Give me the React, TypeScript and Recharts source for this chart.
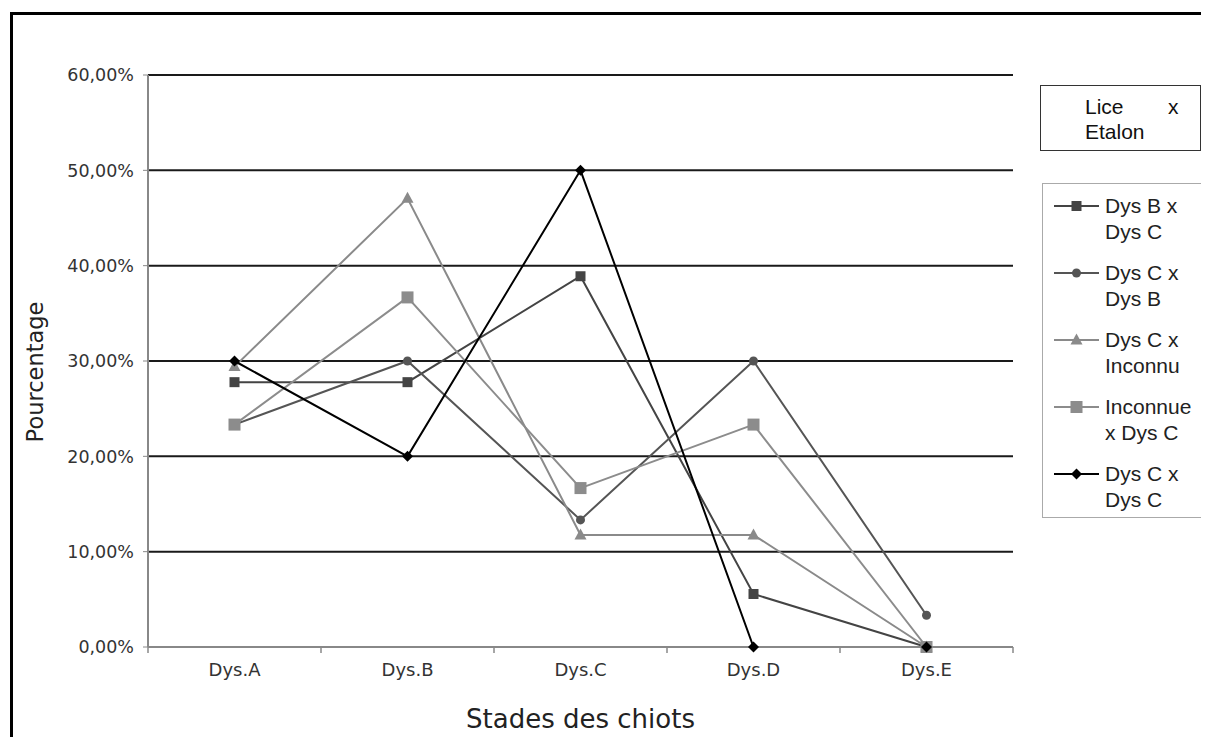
import React from 'react';
import { LineChart, Line, XAxis, YAxis, CartesianGrid, Legend } from 'recharts';

const categories = ['Dys.A', 'Dys.B', 'Dys.C', 'Dys.D', 'Dys.E'];
const dysBxDysC = [27.78, 27.78, 38.89, 5.56, 0];
const dysCxDysB = [23.33, 30, 13.33, 30, 3.33];
const dysCxInconnu = [29.41, 47.06, 11.76, 11.76, 0];
const inconnuexDysC = [23.33, 36.67, 16.67, 23.33, 0];
const dysCxDysC = [30, 20, 50, 0, 0];
const yTicks = [0, 10, 20, 30, 40, 50, 60];

const seriesNames = ['Dys B x Dys C', 'Dys C x Dys B', 'Dys C x Inconnu', 'Inconnue x Dys C', 'Dys C x Dys C'];
const legendLines = [
  ['Dys B x', 'Dys C'],
  ['Dys C x', 'Dys B'],
  ['Dys C x', 'Inconnu'],
  ['Inconnue', 'x Dys C'],
  ['Dys C x', 'Dys C'],
];

const data = categories.map((c, i) => ({
  cat: c,
  s0: dysBxDysC[i],
  s1: dysCxDysB[i],
  s2: dysCxInconnu[i],
  s3: inconnuexDysC[i],
  s4: dysCxDysC[i],
}));

type Shape = 'square' | 'circle' | 'triangle' | 'bigsquare' | 'diamond';
const styles: { key: string; color: string; shape: Shape }[] = [
  { key: 's0', color: '#444444', shape: 'square' },
  { key: 's1', color: '#555555', shape: 'circle' },
  { key: 's2', color: '#8a8a8a', shape: 'triangle' },
  { key: 's3', color: '#8c8c8c', shape: 'bigsquare' },
  { key: 's4', color: '#000000', shape: 'diamond' },
];

function marker(shape: Shape, cx: number, cy: number, color: string, k?: string | number) {
  switch (shape) {
    case 'square':
      return <rect key={k} x={cx - 5} y={cy - 5} width={10} height={10} fill={color} />;
    case 'bigsquare':
      return <rect key={k} x={cx - 6} y={cy - 6} width={12} height={12} fill={color} />;
    case 'circle':
      return <circle key={k} cx={cx} cy={cy} r={4.5} fill={color} />;
    case 'triangle':
      return <path key={k} d={`M${cx},${cy - 6.5}L${cx + 6},${cy + 4.5}L${cx - 6},${cy + 4.5}Z`} fill={color} />;
    case 'diamond':
    default:
      return <path key={k} d={`M${cx},${cy - 5.5}L${cx + 5.5},${cy}L${cx},${cy + 5.5}L${cx - 5.5},${cy}Z`} fill={color} />;
  }
}

const fmt = (v: number) => `${v.toFixed(2).replace('.', ',')}%`;

const XTick = (props: any) => {
  const { x, y, payload, index, visibleTicksCount } = props;
  const off = payload && payload.offset ? payload.offset : 0;
  const axisY = y - 16;
  return (
    <g>
      <line x1={x - off} x2={x - off} y1={axisY} y2={axisY + 6} stroke="#888" strokeWidth={1.5} />
      {index === visibleTicksCount - 1 && (
        <line x1={x + off} x2={x + off} y1={axisY} y2={axisY + 6} stroke="#888" strokeWidth={1.5} />
      )}
      <text x={x} y={y} dy="0.71em" textAnchor="middle" fontSize={18} fill="#333" fontFamily="DejaVu Sans">
        {payload.value}
      </text>
    </g>
  );
};

const LegendContent = () => (
  <div
    style={{
      width: 159,
      height: 324,
      border: '1px solid #aaa',
      background: '#fff',
      paddingTop: 9,
      boxSizing: 'content-box',
      fontFamily: '"Liberation Sans", Arial, sans-serif',
      fontSize: 21,
      color: '#222',
    }}
  >
    {styles.map((s, i) => (
      <div key={s.key} style={{ position: 'relative', height: 67 }}>
        <svg width={60} height={26} style={{ position: 'absolute', left: 0, top: 0 }}>
          <line x1={11} x2={56} y1={13} y2={13} stroke={s.color} strokeWidth={2} />
          {marker(s.shape, 33.5, 13, s.color)}
        </svg>
        <div style={{ position: 'absolute', left: 62, top: 0, lineHeight: '26px', whiteSpace: 'nowrap' }}>
          <div>{legendLines[i][0]}</div>
          <div>{legendLines[i][1]}</div>
        </div>
      </div>
    ))}
  </div>
);

export default function App() {
  return (
    <div style={{ position: 'relative', width: 1201, height: 729 }}>
      <div
        style={{
          position: 'absolute',
          left: 2,
          top: 4,
          right: 0,
          bottom: 0,
          borderLeft: '3px solid #000',
          borderTop: '3px solid #000',
        }}
      />
      <div
        style={{
          position: 'absolute',
          left: 1032,
          top: 77,
          width: 159,
          height: 64,
          border: '1px solid #333',
          fontFamily: '"Liberation Sans", Arial, sans-serif',
          fontSize: 21,
          lineHeight: '25px',
          color: '#111',
          background: '#fff',
        }}
      >
        <div style={{ position: 'absolute', left: 44, top: 8, whiteSpace: 'nowrap' }}>Lice</div>
        <div style={{ position: 'absolute', left: 127, top: 8 }}>x</div>
        <div style={{ position: 'absolute', left: 44, top: 33 }}>Etalon</div>
      </div>
      <div style={{ position: 'absolute', left: 0, top: 0 }}>
        <LineChart width={1201} height={729} data={data} margin={{ top: 67, right: 196, left: 0, bottom: 0 }}>
          <CartesianGrid vertical={false} stroke="#1a1a1a" strokeWidth={2} />
          <XAxis
            dataKey="cat"
            scale="band"
            height={90}
            axisLine={{ stroke: '#888', strokeWidth: 2 }}
            tickLine={{ stroke: 'none' }}
            tickSize={6}
            tickMargin={10}
            tick={<XTick />}
            interval={0}
            label={{
              value: 'Stades des chiots',
              position: 'insideBottom',
              offset: 9,
              fontSize: 26,
              fill: '#222',
              fontFamily: 'DejaVu Sans',
            }}
          />
          <YAxis
            width={140}
            domain={[0, 60]}
            ticks={yTicks}
            tickFormatter={fmt}
            axisLine={{ stroke: '#888', strokeWidth: 2 }}
            tickLine={{ stroke: '#888' }}
            tickSize={5}
            tickMargin={9}
            tick={{ fontSize: 17.5, fill: '#333', fontFamily: 'DejaVu Sans' }}
            label={(p: any) => {
              const vb = p.viewBox || {};
              const cy = (vb.y || 0) + (vb.height || 0) / 2 + 11;
              return (
                <text
                  x={27}
                  y={cy}
                  transform={`rotate(-90, 27, ${cy})`}
                  textAnchor="middle"
                  dominantBaseline="central"
                  fontSize={22.5}
                  fill="#222"
                  fontFamily="DejaVu Sans"
                >
                  Pourcentage
                </text>
              );
            }}
          />
          <YAxis
            yAxisId="r"
            orientation="right"
            width={0}
            domain={[0, 60]}
            tick={false}
            tickLine={false}
            axisLine={{ stroke: '#888', strokeWidth: 1.5 }}
          />
          <Legend
            layout="vertical"
            align="center"
            verticalAlign="middle"
            wrapperStyle={{ left: 1034, top: 175, width: 161, height: 335 }}
            content={<LegendContent />}
          />
          {styles.map((s, i) => (
            <Line
              key={s.key}
              dataKey={s.key}
              name={seriesNames[i]}
              stroke={s.color}
              strokeWidth={2}
              isAnimationActive={false}
              dot={(p: any) => marker(s.shape, p.cx, p.cy, s.color, `${s.key}-${p.index}`)}
              activeDot={false}
            />
          ))}
        </LineChart>
      </div>
    </div>
  );
}
